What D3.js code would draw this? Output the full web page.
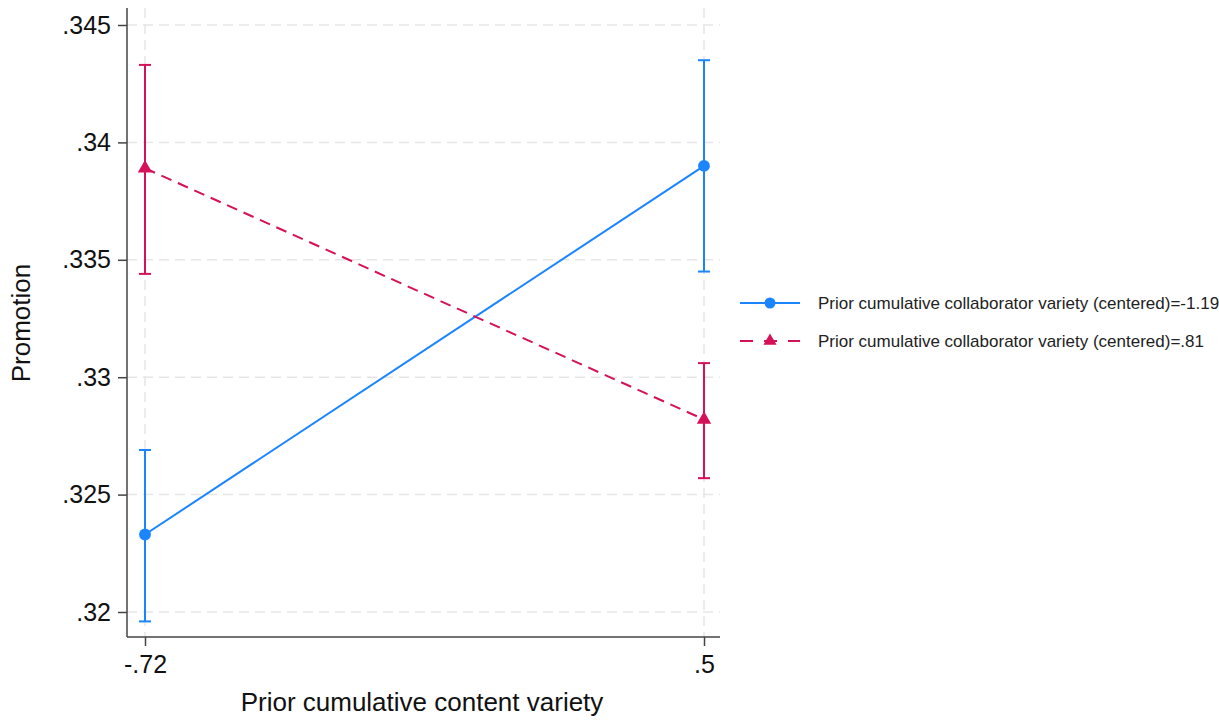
<!DOCTYPE html>
<html>
<head>
<meta charset="utf-8">
<script src="https://cdn.jsdelivr.net/npm/d3@7"></script>
<style>
  body { margin: 0; background: #fff; }
  text { font-family: "Liberation Sans", Arial, sans-serif; }
</style>
</head>
<body>
<div id="chart"></div>
<script>
// x categories (prior cumulative content variety)
const xValues = [-0.72, 0.5];
const xTickLabels = ["-.72", ".5"];
const yTicks = [0.32, 0.325, 0.33, 0.335, 0.34, 0.345];
const yTickLabels = [".32", ".325", ".33", ".335", ".34", ".345"];

// collaborator variety = -1.19
const lowMean = [0.3233, 0.3390];
const lowLower = [0.3196, 0.3345];
const lowUpper = [0.3269, 0.3435];

// collaborator variety = .81
const highMean = [0.3389, 0.3282];
const highLower = [0.3344, 0.3257];
const highUpper = [0.3433, 0.3306];

const seriesNames = [
    "Prior cumulative collaborator variety (centered)=-1.19",
    "Prior cumulative collaborator variety (centered)=.81"
];

const W = 1219, H = 721;
const plotLeft = 127, plotRight = 720, plotTop = 8, plotBottom = 637;

const svg = d3.select("#chart").append("svg")
    .attr("width", W).attr("height", H);

const x = d3.scaleLinear().domain([-0.72, 0.5]).range([145, 704]);
const y = d3.scaleLinear().domain([0.32, 0.345]).range([612, 25]);

const blue = "#1a85ff", red = "#d51159";

// grid
const grid = svg.append("g");
grid.selectAll(".hg").data(yTicks).enter().append("line")
    .attr("x1", plotLeft).attr("x2", plotRight)
    .attr("y1", d => y(d)).attr("y2", d => y(d))
    .style("stroke", "#e6e6e6").style("stroke-width", 1.5)
    .style("stroke-dasharray", "10,6");
grid.selectAll(".vg").data(xValues).enter().append("line")
    .attr("x1", d => x(d)).attr("x2", d => x(d))
    .attr("y1", plotTop).attr("y2", plotBottom)
    .style("stroke", "#e6e6e6").style("stroke-width", 1.5)
    .style("stroke-dasharray", "10,6");

// axes
const yAxis = svg.append("g")
    .attr("transform", "translate(" + plotLeft + ",0)")
    .call(d3.axisLeft(y).tickValues(yTicks)
        .tickFormat((d, i) => yTickLabels[i]).tickSize(9).tickPadding(7).tickSizeOuter(0));
yAxis.select(".domain").attr("d", "M0," + plotTop + "V" + plotBottom);

const xAxis = svg.append("g")
    .attr("transform", "translate(0," + plotBottom + ")")
    .call(d3.axisBottom(x).tickValues(xValues)
        .tickFormat((d, i) => xTickLabels[i]).tickSize(9).tickPadding(9).tickSizeOuter(0));
xAxis.select(".domain").attr("d", "M" + plotLeft + ",0H" + plotRight);

[yAxis, xAxis].forEach(a => {
    a.select(".domain").style("stroke", "#444").style("stroke-width", 1.5);
    a.selectAll(".tick line").style("stroke", "#444").style("stroke-width", 1.5);
    a.selectAll(".tick text").style("font-size", "25px").style("fill", "#111")
        .style("font-family", "'Liberation Sans', Arial, sans-serif");
});

// axis titles
svg.append("text")
    .attr("transform", "translate(30,323) rotate(-90)")
    .attr("text-anchor", "middle")
    .style("font-size", "26px").style("fill", "#111")
    .text("Promotion");
svg.append("text")
    .attr("x", 422).attr("y", 711)
    .attr("text-anchor", "middle")
    .style("font-size", "26px").style("fill", "#111")
    .text("Prior cumulative content variety");

const series = [
    {name: seriesNames[0], mean: lowMean, lo: lowLower, hi: lowUpper, color: blue, dash: null, marker: "circle"},
    {name: seriesNames[1], mean: highMean, lo: highLower, hi: highUpper, color: red, dash: "11,7", marker: "triangle"}
];

const line = d3.line().x((d, i) => x(xValues[i])).y(d => y(d));
const capW = 6;

series.forEach(s => {
    const g = svg.append("g");
    // error bars
    xValues.forEach((xv, i) => {
        g.append("line")
            .attr("x1", x(xv)).attr("x2", x(xv))
            .attr("y1", y(s.lo[i])).attr("y2", y(s.hi[i]))
            .style("stroke", s.color).style("stroke-width", 2);
        [s.lo[i], s.hi[i]].forEach(v => {
            g.append("line")
                .attr("x1", x(xv) - capW).attr("x2", x(xv) + capW)
                .attr("y1", y(v)).attr("y2", y(v))
                .style("stroke", s.color).style("stroke-width", 2);
        });
    });
    // connecting line
    g.append("path")
        .attr("d", line(s.mean))
        .style("fill", "none").style("stroke", s.color).style("stroke-width", 2)
        .style("stroke-dasharray", s.dash);
    // markers
    const sym = s.marker === "circle" ? d3.symbolCircle : d3.symbolTriangle;
    g.selectAll(".m").data(s.mean).enter().append("path")
        .attr("transform", (d, i) => "translate(" + x(xValues[i]) + "," + y(d) + ")")
        .attr("d", d3.symbol().type(sym).size(s.marker === "circle" ? 110 : 90))
        .style("fill", s.color);
});

// legend
const legend = svg.append("g");
series.forEach((s, i) => {
    const ly = 303 + i * 38;
    legend.append("line")
        .attr("x1", 740).attr("x2", 800).attr("y1", ly).attr("y2", ly)
        .style("stroke", s.color).style("stroke-width", 2)
        .style("stroke-dasharray", s.dash ? "13,11" : null);
    const sym = s.marker === "circle" ? d3.symbolCircle : d3.symbolTriangle;
    legend.append("path")
        .attr("transform", "translate(770," + ly + ")")
        .attr("d", d3.symbol().type(sym).size(s.marker === "circle" ? 95 : 75))
        .style("fill", s.color);
    legend.append("text")
        .attr("x", 818).attr("y", ly + 6)
        .style("font-size", "17px").style("fill", "#222")
        .text(s.name);
});
</script>
</body>
</html>
